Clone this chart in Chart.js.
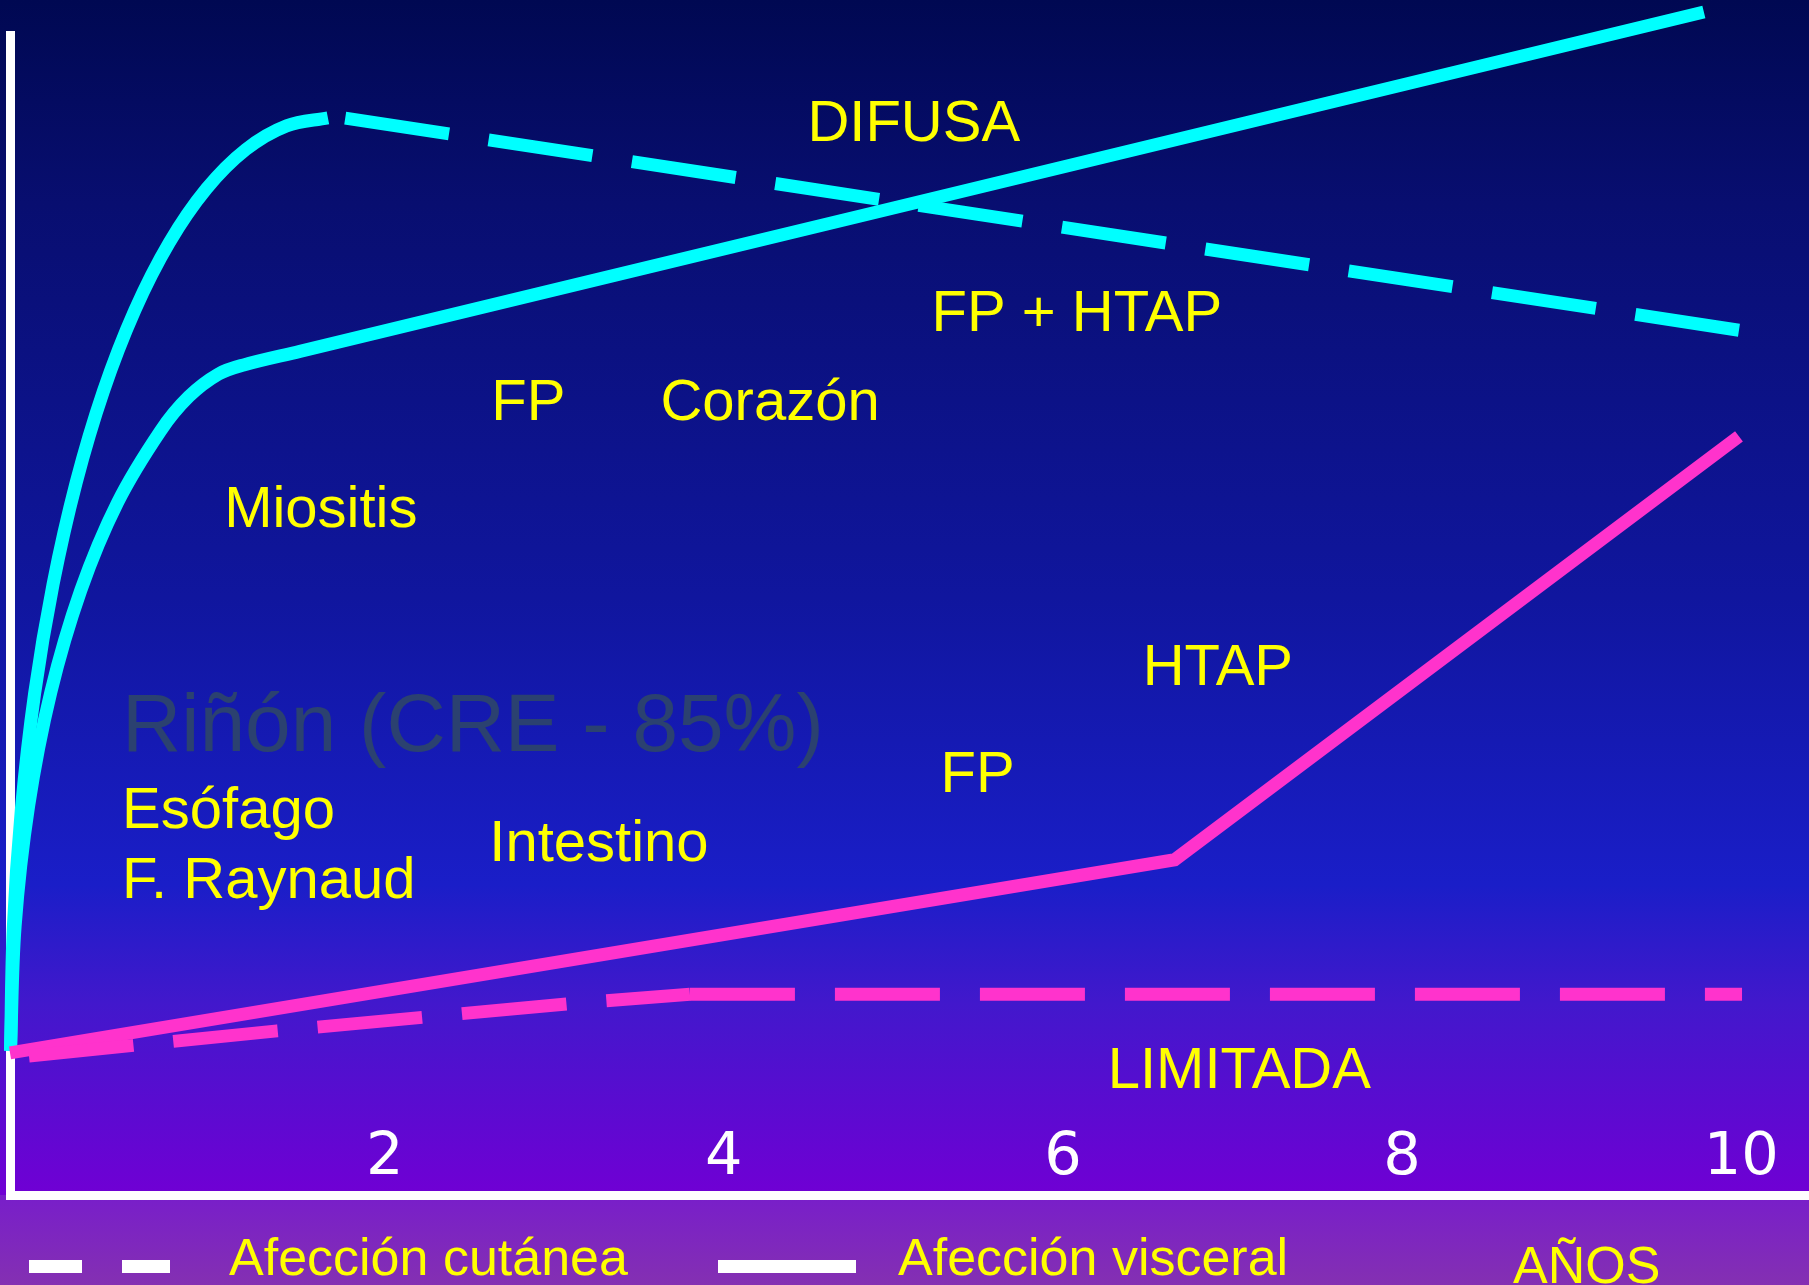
<!DOCTYPE html>
<html lang="es">
<head>
<meta charset="utf-8">
<title>Esclerodermia: evolución de la afección cutánea y visceral</title>
<script src="https://cdn.jsdelivr.net/npm/chart.js@4.4.1/dist/chart.umd.min.js"></script>
<style>
  html, body { margin: 0; padding: 0; overflow: hidden; background: #0b0f78; }
  canvas { display: block; }
</style>
</head>
<body>
<canvas id="grafico" width="1809" height="1285"></canvas>
<script>
// Años rotulados sobre el eje horizontal
const tickYears = [2, 4, 6, 8, 10];

// Forma difusa — afección cutánea: ascenso rápido (trazo continuo)
const difusaCutaneaAscenso = [
  { x: -0.207, y: 12.43 }, { x: -0.191, y: 22.92 }, { x: -0.143, y: 33.25 },
  { x: -0.065, y: 43.22 }, { x: 0.044, y: 52.65 }, { x: 0.180, y: 61.40 },
  { x: 0.341, y: 69.30 }, { x: 0.526, y: 76.26 }, { x: 0.729, y: 82.09 },
  { x: 0.949, y: 86.75 }, { x: 1.181, y: 90.13 }, { x: 1.421, y: 92.17 },
  { x: 1.665, y: 92.86 }
];
// Forma difusa — afección cutánea: regresión lenta posterior (trazo discontinuo)
const difusaCutaneaDescenso = [ { x: 1.767, y: 92.84 }, { x: 9.987, y: 74.55 } ];

// Forma difusa — afección visceral
const difusaVisceral = [
  { x: -0.207, y: 12.43 }, { x: -0.180, y: 23.15 }, { x: -0.100, y: 33.55 },
  { x: 0.030, y: 43.30 }, { x: 0.207, y: 52.11 }, { x: 0.425, y: 59.71 },
  { x: 0.678, y: 65.88 }, { x: 0.844, y: 68.82 }, { x: 1.019, y: 70.77 },
  { x: 1.168, y: 71.56 }, { x: 1.500, y: 72.73 }, { x: 5.000, y: 85.09 },
  { x: 9.780, y: 101.98 }
];

// Forma limitada — afección visceral
const limitadaVisceral = [ { x: -0.210, y: 12.25 }, { x: 6.659, y: 28.90 }, { x: 9.987, y: 65.40 } ];

// Forma limitada — afección cutánea (tramo ascendente y meseta)
const limitadaCutanea = [
  { x: -0.098, y: 11.99 }, { x: 1.366, y: 14.15 }, { x: 3.077, y: 16.48 },
  { x: 3.800, y: 17.30 }, { x: 10.005, y: 17.30 }
];
const limitadaCutaneaInicioMeseta = 3;

// Rótulos de órganos y formas clínicas (anclados en año / escala vertical)
const rotulos = ['DIFUSA', 'FP + HTAP', 'FP', 'Corazón', 'Miositis', 'Esófago', 'F. Raynaud', 'Intestino', 'FP', 'HTAP', 'LIMITADA'];
const rotulosAnio = [4.493, 5.225, 2.628, 3.626, 1.053, 0.451, 0.451, 2.617, 5.278, 6.470, 6.264];
const rotulosNivel = [90.85, 74.46, 66.78, 66.78, 57.55, 31.67, 25.63, 28.82, 34.77, 44.00, 9.23];

// Rótulo destacado del riñón
const rotuloRinon = 'Riñón (CRE - 85%)';
const rotuloRinonAnio = 0.451;
const rotuloRinonNivel = 38.31;

// Leyenda y título del eje
const leyendaCutanea = 'Afección cutánea';
const leyendaVisceral = 'Afección visceral';
const tituloEje = 'AÑOS';

const CIAN = '#00ffff';
const ROSA = '#ff33cc';
const AMARILLO = '#ffff00';

// Fondo degradado de la diapositiva y franja inferior bajo el eje
const fondo = {
  id: 'fondo',
  beforeDraw(chart) {
    const { ctx, width, height, chartArea } = chart;
    ctx.save();
    const g = ctx.createLinearGradient(0, 0, 0, chartArea.bottom);
    g.addColorStop(0.00, 'rgb(0,8,82)');
    g.addColorStop(0.17, 'rgb(8,14,112)');
    g.addColorStop(0.50, 'rgb(16,22,158)');
    g.addColorStop(0.74, 'rgb(26,30,200)');
    g.addColorStop(0.84, 'rgb(66,24,204)');
    g.addColorStop(1.00, 'rgb(112,0,212)');
    ctx.fillStyle = g;
    ctx.fillRect(0, 0, width, chartArea.bottom);
    const b = ctx.createLinearGradient(0, chartArea.bottom, 0, height);
    b.addColorStop(0, 'rgb(120,30,202)');
    b.addColorStop(1, 'rgb(132,48,178)');
    ctx.fillStyle = b;
    ctx.fillRect(0, chartArea.bottom, width, height - chartArea.bottom);
    ctx.restore();
  }
};

// Textos: años, rótulos clínicos y leyenda
const textos = {
  id: 'textos',
  afterDraw(chart) {
    const { ctx, chartArea, scales } = chart;
    const sx = scales.x, sy = scales.y;
    ctx.save();
    ctx.textBaseline = 'alphabetic';

    // Años sobre el eje
    ctx.fillStyle = '#ffffff';
    ctx.font = '59px "DejaVu Sans"';
    ctx.textAlign = 'center';
    tickYears.forEach(v => ctx.fillText(String(v), sx.getPixelForValue(v), chartArea.bottom - 21));

    // Riñón
    ctx.textAlign = 'left';
    ctx.fillStyle = '#2b4170';
    ctx.font = '82px "Liberation Sans"';
    ctx.fillText(rotuloRinon, sx.getPixelForValue(rotuloRinonAnio), sy.getPixelForValue(rotuloRinonNivel));

    // Rótulos amarillos
    ctx.fillStyle = AMARILLO;
    ctx.font = '58px "Liberation Sans"';
    rotulos.forEach((t, i) => {
      ctx.fillText(t, sx.getPixelForValue(rotulosAnio[i]), sy.getPixelForValue(rotulosNivel[i]));
    });

    // Leyenda bajo el eje
    const base = chartArea.bottom;
    ctx.fillStyle = '#ffffff';
    ctx.fillRect(29, base + 65, 53, 13);
    ctx.fillRect(122, base + 65, 48, 13);
    ctx.fillRect(718, base + 65, 138, 13);
    ctx.fillStyle = AMARILLO;
    ctx.font = '52px "Liberation Sans"';
    ctx.fillText(leyendaCutanea, 229, base + 80);
    ctx.fillText(leyendaVisceral, 898, base + 80);
    ctx.fillText(tituloEje, 1513, base + 88);
    ctx.restore();
  }
};

const linea = (data, color, extra) => Object.assign({
  data,
  borderColor: color,
  backgroundColor: color,
  borderWidth: 13,
  borderCapStyle: 'butt',
  borderJoinStyle: 'round',
  pointRadius: 0,
  pointHoverRadius: 0,
  fill: false,
  clip: false,
  tension: 0
}, extra || {});

new Chart(document.getElementById('grafico'), {
  type: 'line',
  data: {
    datasets: [
      // la meseta se traza aparte para que el patrón de guiones empiece de nuevo
      linea(limitadaCutanea, ROSA, {
        borderDash: [105, 40],
        segment: {
          borderDashOffset: c => (c.p0DataIndex >= limitadaCutaneaInicioMeseta ? 0.001 : 0)
        }
      }),
      linea(limitadaVisceral, ROSA, { borderJoinStyle: 'miter' }),
      linea(difusaCutaneaAscenso, CIAN, { tension: 0.35 }),
      linea(difusaCutaneaDescenso, CIAN, { borderDash: [105, 40] }),
      linea(difusaVisceral, CIAN, { tension: 0.35 })
    ]
  },
  options: {
    responsive: false,
    devicePixelRatio: 1,
    animation: false,
    events: [],
    elements: { line: { capBezierPoints: false } },
    layout: { padding: { left: 2, top: 35, right: 0, bottom: 82 } },
    plugins: { legend: { display: false }, tooltip: { enabled: false }, title: { display: false } },
    scales: {
      x: {
        type: 'linear', min: -0.21, max: 10.4, z: 1,
        grid: { display: false },
        ticks: { display: false },
        border: { display: true, color: '#ffffff', width: 9 }
      },
      y: {
        type: 'linear', min: 0, max: 100, z: 1,
        grid: { display: false },
        ticks: { display: false },
        border: { display: true, color: '#ffffff', width: 9 }
      }
    }
  },
  plugins: [fondo, textos]
});
</script>
</body>
</html>
